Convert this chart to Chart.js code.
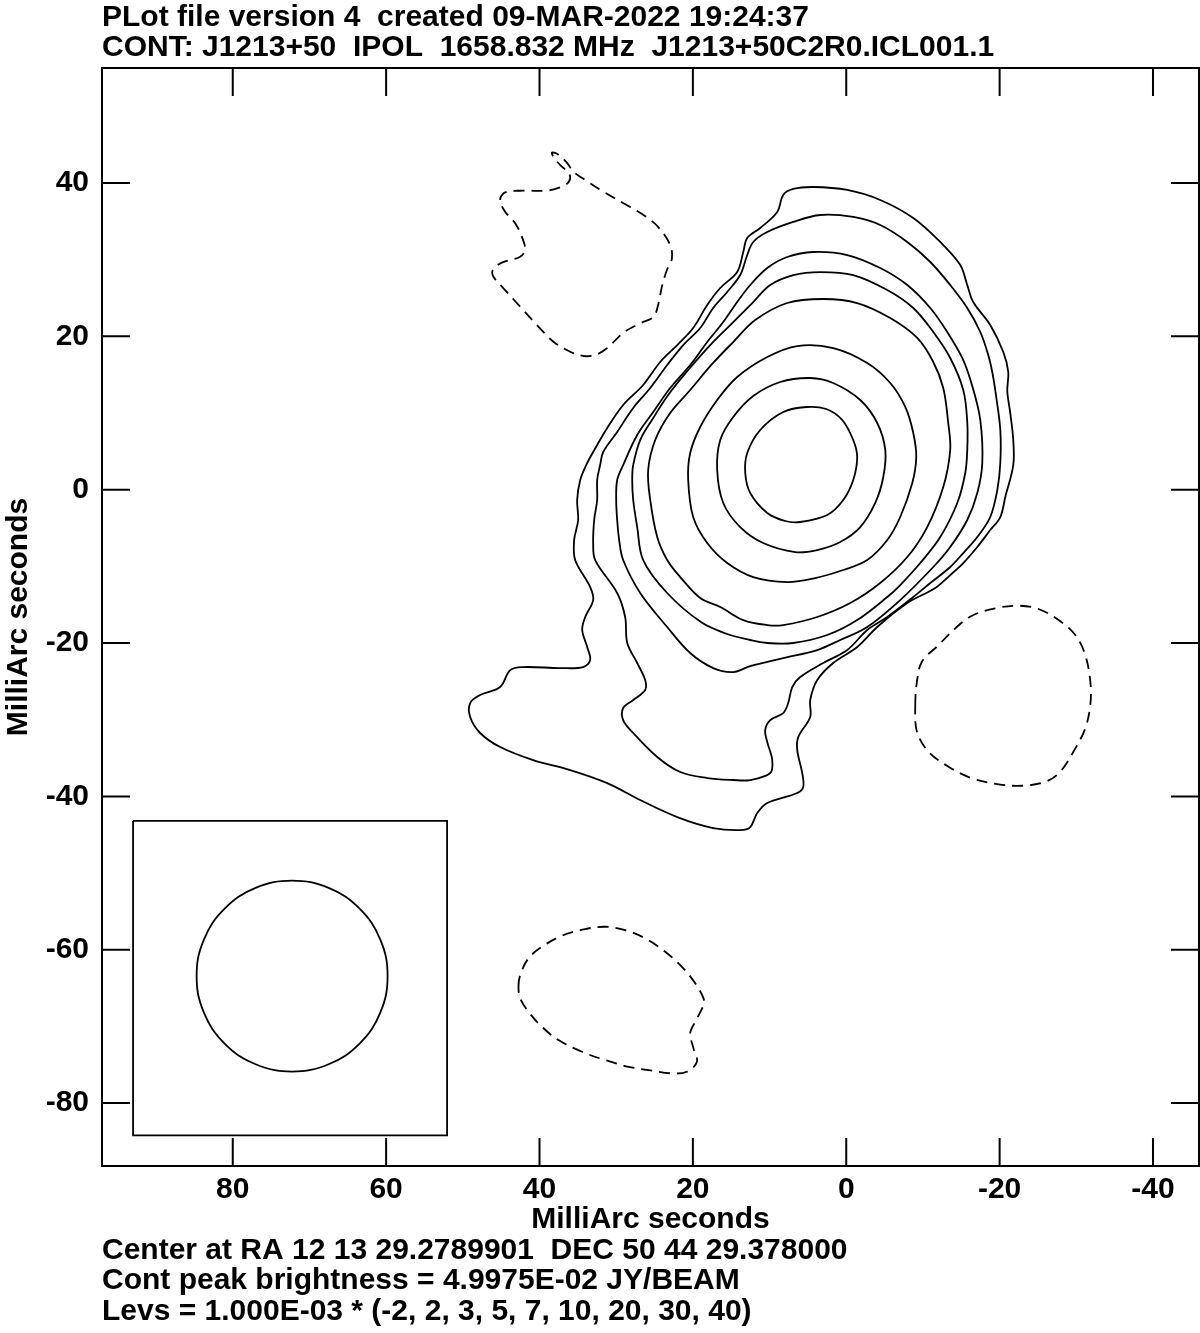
<!DOCTYPE html>
<html>
<head>
<meta charset="utf-8">
<title>J1213+50 IPOL 1658.832 MHz</title>
<script src="https://cdn.jsdelivr.net/npm/chart.js@4.4.1/dist/chart.umd.min.js"></script>
<style>
  html, body { margin: 0; padding: 0; background: #fff; }
  #wrap { width: 1200px; height: 1333px; }
</style>
</head>
<body>
<div id="wrap"><canvas id="map" width="1200" height="1333"></canvas></div>
<script>
// contour levels, in units of 1.000E-03 JY/BEAM
const contourLevels = [-2, 2, 3, 5, 7, 10, 20, 30, 40];

// tick labels (milliarcsec)
const xTicks = [80, 60, 40, 20, 0, -20, -40];
const yTicks = [40, 20, 0, -20, -40, -60, -80];

// contour outlines, [RA offset, Dec offset] in milliarcsec
const negNorth = [[45.13,37.79],[44.48,38.79],[42.09,39.0],[39.04,39.0],[37.30,39.44],[36.17,40.17],[36.09,41.18],[37.08,42.13],[37.95,43.09],[38.39,43.95],[37.66,43.78],[36.43,42.65],[35.57,41.48],[34.04,40.39],[31.66,38.87],[29.05,37.36],[26.44,35.83],[24.48,34.22],[22.96,31.92],[22.73,30.18],[23.39,28.66],[24.04,26.48],[24.48,24.31],[25.13,22.56],[26.87,21.70],[29.05,20.48],[31.21,18.44],[32.74,17.57],[34.26,17.44],[36.0,18.0],[38.18,19.30],[40.34,21.48],[42.52,23.87],[44.70,26.27],[46.0,27.78],[46.08,28.66],[44.91,29.61],[42.52,30.39],[41.87,31.26],[42.30,33.0],[43.17,34.75],[44.48,36.26]];

const negEast = [[-9.0,-28.08],[-9.22,-25.04],[-9.87,-22.43],[-12.04,-20.26],[-14.22,-18.08],[-16.40,-16.43],[-19.43,-15.47],[-22.47,-15.13],[-25.08,-15.56],[-27.69,-17.0],[-29.87,-18.95],[-31.17,-21.56],[-31.83,-25.04],[-31.83,-28.08],[-31.17,-31.12],[-29.87,-33.73],[-27.91,-36.78],[-25.96,-38.09],[-22.92,-38.61],[-19.86,-38.42],[-16.40,-37.64],[-13.34,-36.13],[-10.73,-34.17],[-9.22,-31.56]];

const negSouth = [[42.74,-64.82],[42.52,-63.30],[41.44,-61.12],[39.69,-59.61],[37.08,-58.17],[34.04,-57.30],[31.43,-57.0],[28.83,-57.43],[26.22,-58.51],[23.61,-60.26],[21.43,-62.22],[19.69,-64.38],[18.61,-66.34],[18.61,-67.21],[19.69,-69.39],[20.35,-70.90],[19.92,-72.86],[19.47,-74.61],[20.78,-75.91],[22.73,-76.12],[25.79,-75.69],[28.39,-75.26],[31.43,-74.39],[34.47,-73.30],[37.52,-71.78],[39.69,-70.04],[41.44,-68.08],[42.52,-66.34]];

const lev2 = [[8.22,38.44],[6.91,39.22],[4.30,39.48],[-0.13,39.09],[-4.43,37.79],[-8.74,35.44],[-12.26,32.31],[-14.87,29.31],[-15.78,26.70],[-16.56,24.48],[-18.78,21.48],[-20.48,17.96],[-21.13,15.35],[-21.0,12.87],[-21.39,10.0],[-21.78,6.48],[-21.78,3.22],[-20.74,-0.95],[-20.09,-3.56],[-18.78,-5.26],[-17.09,-7.47],[-15.26,-9.56],[-13.56,-11.13],[-11.61,-12.82],[-7.96,-14.78],[-4.04,-17.91],[-1.43,-20.52],[1.70,-22.60],[3.78,-24.82],[4.70,-27.43],[4.70,-29.65],[6.26,-32.26],[6.39,-33.95],[5.74,-36.95],[5.61,-38.78],[6.39,-39.56],[10.30,-40.86],[11.61,-42.17],[12.52,-43.99],[13.83,-44.39],[17.35,-44.12],[22.04,-42.69],[26.87,-40.47],[31.17,-38.26],[36.0,-36.56],[40.83,-35.26],[45.13,-33.56],[47.74,-31.73],[49.04,-29.65],[49.04,-27.82],[47.74,-26.78],[45.13,-25.73],[43.82,-23.52],[42.13,-23.13],[37.30,-23.26],[34.30,-23.13],[33.39,-22.21],[33.78,-20.52],[34.43,-18.30],[34.04,-16.60],[33.0,-14.39],[33.39,-12.69],[35.35,-9.17],[35.48,-6.56],[34.96,-3.95],[35.09,-1.34],[34.69,1.27],[33.91,3.22],[33.0,4.92],[31.17,8.05],[29.09,11.05],[26.48,13.66],[24.26,16.66],[22.04,18.87],[19.96,21.09],[18.13,24.09],[16.43,26.31],[14.22,28.39],[13.43,31.0],[12.91,32.83],[11.22,34.13],[9.0,36.22]];

const lev3 = [[3.39,35.83],[-0.91,35.57],[-4.43,34.52],[-7.96,32.31],[-10.96,29.70],[-13.56,26.70],[-15.78,23.70],[-17.48,20.57],[-18.52,17.57],[-19.04,15.35],[-19.56,12.09],[-20.09,7.79],[-20.09,3.48],[-19.70,-0.04],[-18.78,-3.56],[-17.09,-6.17],[-15.26,-8.26],[-13.56,-10.08],[-10.96,-12.17],[-8.74,-14.0],[-5.35,-16.60],[-2.74,-18.30],[-0.13,-20.91],[3.0,-22.60],[6.0,-24.43],[7.04,-25.73],[7.57,-27.82],[8.22,-29.13],[9.91,-30.04],[10.57,-31.34],[10.30,-32.91],[9.65,-35.26],[9.91,-36.95],[12.52,-37.86],[14.74,-37.86],[18.13,-37.60],[21.65,-36.82],[24.65,-34.86],[27.78,-31.73],[29.09,-30.04],[29.09,-28.47],[27.78,-27.43],[26.22,-26.12],[26.22,-24.82],[27.26,-22.60],[28.56,-19.99],[28.83,-16.60],[29.87,-13.47],[32.74,-9.17],[33.0,-6.95],[32.87,-3.95],[32.48,-1.34],[32.48,1.27],[32.09,3.22],[31.69,4.92],[29.87,7.53],[27.78,10.66],[25.56,13.26],[23.35,16.26],[21.26,18.87],[19.04,21.09],[17.35,23.70],[15.52,25.79],[13.83,28.0],[12.91,30.61],[12.13,32.31],[10.30,33.61],[6.91,34.92]];

const lev5 = [[4.30,31.0],[-0.13,30.61],[-4.43,28.92],[-7.96,26.70],[-10.96,23.70],[-13.17,20.57],[-15.13,17.18],[-16.43,13.53],[-17.48,9.09],[-17.74,3.48],[-17.09,-0.43],[-15.78,-3.95],[-13.56,-7.47],[-11.35,-10.08],[-7.04,-14.39],[-2.74,-17.91],[0.78,-19.60],[3.78,-20.91],[8.22,-21.95],[12.52,-23.0],[14.74,-23.78],[17.35,-23.26],[20.35,-21.30],[23.35,-17.91],[26.87,-13.47],[29.09,-9.17],[29.61,-6.56],[29.87,-3.95],[30.0,-1.34],[29.87,1.27],[29.09,3.22],[27.26,7.13],[25.17,10.13],[22.96,13.26],[20.35,16.26],[18.13,19.26],[16.04,21.87],[14.22,24.48],[12.52,26.70],[10.30,28.92],[7.70,30.35]];

const lev7 = [[6.91,28.0],[3.39,28.39],[-0.91,28.0],[-5.35,26.05],[-8.74,23.70],[-11.35,20.57],[-13.56,17.18],[-15.26,13.0],[-15.78,8.83],[-15.78,5.18],[-15.52,2.18],[-14.48,-1.73],[-12.26,-6.17],[-9.65,-9.56],[-7.04,-12.43],[-5.35,-14.0],[-1.43,-17.0],[2.48,-18.95],[6.91,-19.99],[10.30,-19.99],[12.52,-19.60],[15.52,-18.82],[18.90,-17.30],[23.35,-13.47],[26.48,-9.17],[27.26,-4.87],[27.78,-1.34],[27.91,1.27],[27.78,3.22],[26.87,6.48],[25.17,9.35],[23.22,12.35],[20.61,15.61],[17.74,18.87],[15.13,21.48],[12.13,24.48],[9.91,26.70]];

const lev10 = [[7.70,24.35],[3.0,24.87],[-1.43,24.35],[-5.74,22.39],[-9.26,19.79],[-11.35,16.66],[-12.65,13.26],[-13.30,8.70],[-13.56,5.18],[-12.65,0.35],[-10.56,-4.87],[-7.96,-8.78],[-4.43,-12.17],[-0.52,-14.78],[3.78,-16.60],[8.22,-17.65],[10.30,-17.65],[13.43,-17.0],[16.43,-15.30],[19.04,-14.13],[21.65,-11.39],[23.35,-9.17],[24.65,-6.17],[25.56,-1.34],[25.83,2.57],[24.91,6.48],[22.96,10.0],[20.35,13.0],[17.48,16.40],[14.74,19.26],[11.87,22.13]];

const lev20 = [[6.39,18.74],[1.70,18.48],[-2.74,16.53],[-5.74,13.92],[-7.70,10.79],[-8.74,7.40],[-9.13,4.27],[-8.61,0.87],[-7.04,-3.56],[-5.35,-6.56],[-2.74,-9.17],[0.39,-10.47],[4.04,-11.52],[7.70,-12.04],[12.13,-11.39],[15.52,-9.56],[18.13,-6.95],[19.96,-3.56],[20.61,1.27],[20.35,4.79],[19.04,8.18],[16.83,11.70],[14.22,14.70],[10.30,17.31]];

const lev30 = [[4.70,14.57],[1.70,13.92],[-1.83,11.70],[-4.04,8.70],[-5.09,5.18],[-4.83,1.66],[-3.78,-1.73],[-1.83,-4.87],[0.78,-6.82],[3.78,-7.87],[6.65,-8.13],[10.83,-6.95],[13.83,-4.87],[16.04,-1.73],[16.83,2.57],[16.43,6.48],[14.74,9.48],[12.13,12.22],[8.61,14.05]];

const lev40 = [[5.22,10.79],[2.61,10.53],[0.52,9.09],[-0.91,6.48],[-1.43,4.27],[-0.91,1.27],[0.39,-1.34],[2.48,-3.30],[6.0,-4.21],[7.96,-4.08],[10.30,-3.04],[12.52,-0.43],[13.17,2.18],[12.91,4.79],[11.22,7.79],[8.22,10.13]];

// restoring beam (circular) and its box, lower left
const beamOutline = [[84.71,-63.43],[83.76,-58.67],[81.06,-54.63],[77.02,-51.93],[72.26,-50.98],[67.50,-51.93],[63.46,-54.63],[60.76,-58.67],[59.81,-63.43],[60.76,-68.19],[63.46,-72.23],[67.50,-74.93],[72.26,-75.88],[77.02,-74.93],[81.06,-72.23],[83.76,-68.19]];
const beamBox = [[93.0,-43.2],[52.05,-43.2],[52.05,-84.2],[93.0,-84.2]];

const titleLines = [
  'PLot file version 4  created 09-MAR-2022 19:24:37',
  'CONT: J1213+50  IPOL  1658.832 MHz  J1213+50C2R0.ICL001.1'
];
const footerLines = [
  'Center at RA 12 13 29.2789901  DEC 50 44 29.378000',
  'Cont peak brightness = 4.9975E-02 JY/BEAM',
  'Levs = 1.000E-03 * (-2, 2, 3, 5, 7, 10, 20, 30, 40)'
];
const axisLabel = 'MilliArc seconds';

const FAMILY = "'Liberation Sans', Arial, Helvetica, sans-serif";
const INK = '#000';
const HIDDEN = 'rgba(0,0,0,0)';
const boldFont = (lh) => ({ family: FAMILY, size: 30, weight: 'bold', lineHeight: lh });

// closed ring: one extra point on each end so the spline has neighbours
// all the way round; the two extra segments are drawn transparent
function ring(pts) {
  const n = pts.length;
  return [pts[n - 1], ...pts, pts[0], pts[1]].map(p => ({ x: p[0], y: p[1] }));
}

function contour(label, pts, dashed, tension) {
  const data = ring(pts);
  const lastSeg = data.length - 2;
  return {
    label: label,
    data: data,
    showLine: true,
    pointRadius: 0,
    pointHoverRadius: 0,
    borderColor: INK,
    borderWidth: 1.8,
    borderDash: dashed ? [11, 7] : [],
    tension: tension === undefined ? 0.35 : tension,
    fill: false,
    segment: {
      borderColor: c => (c.p0DataIndex === 0 || c.p0DataIndex === lastSeg) ? HIDDEN : undefined
    }
  };
}

const datasets = [
  contour('lev ' + contourLevels[0] + ' N', negNorth, true),
  contour('lev ' + contourLevels[0] + ' E', negEast, true),
  contour('lev ' + contourLevels[0] + ' S', negSouth, true),
  contour('lev ' + contourLevels[1], lev2, false),
  contour('lev ' + contourLevels[2], lev3, false),
  contour('lev ' + contourLevels[3], lev5, false),
  contour('lev ' + contourLevels[4], lev7, false),
  contour('lev ' + contourLevels[5], lev10, false),
  contour('lev ' + contourLevels[6], lev20, false),
  contour('lev ' + contourLevels[7], lev30, false),
  contour('lev ' + contourLevels[8], lev40, false),
  contour('beam', beamOutline, false, 0.4),
  contour('beam box', beamBox, false, 0)
];

// plot frame plus inward tick marks on all four sides (AIPS style)
const frameTicks = {
  id: 'frameTicks',
  afterDraw(chart) {
    const { ctx, chartArea: a, scales } = chart;
    const len = 28;
    ctx.save();
    ctx.strokeStyle = INK;
    ctx.lineWidth = 2;
    ctx.strokeRect(a.left, a.top, a.right - a.left, a.bottom - a.top);
    ctx.beginPath();
    xTicks.forEach(v => {
      const px = scales.x.getPixelForValue(v);
      ctx.moveTo(px, a.top); ctx.lineTo(px, a.top + len);
      ctx.moveTo(px, a.bottom); ctx.lineTo(px, a.bottom - len);
    });
    yTicks.forEach(v => {
      const py = scales.y.getPixelForValue(v);
      ctx.moveTo(a.left, py); ctx.lineTo(a.left + len, py);
      ctx.moveTo(a.right, py); ctx.lineTo(a.right - len, py);
    });
    ctx.stroke();
    ctx.restore();
  }
};

new Chart(document.getElementById('map'), {
  type: 'scatter',
  data: { datasets: datasets },
  options: {
    responsive: false,
    maintainAspectRatio: false,
    animation: false,
    events: [],
    layout: { padding: { left: 0, right: 1, top: 0, bottom: 0 } },
    scales: {
      x: {
        type: 'linear',
        min: -46,
        max: 97.05,
        reverse: true,
        afterBuildTicks: s => { s.ticks = xTicks.map(v => ({ value: v })); },
        afterFit: s => { s.height = 69.25; },
        grid: { display: false, drawTicks: false },
        border: { display: false },
        ticks: { color: INK, font: boldFont(1), padding: 9, maxRotation: 0, autoSkip: false },
        title: { display: true, text: axisLabel, color: INK, font: boldFont(1), padding: { top: 0, bottom: 0.25 } }
      },
      y: {
        type: 'linear',
        min: -88.2,
        max: 55.0,
        afterBuildTicks: s => { s.ticks = yTicks.map(v => ({ value: v })); },
        afterFit: s => { s.width = 102; },
        grid: { display: false, drawTicks: false },
        border: { display: false },
        ticks: { color: INK, font: boldFont(1), padding: 13, autoSkip: false },
        title: { display: true, text: axisLabel, color: INK, font: boldFont(1), padding: { top: 3.5, bottom: 0 } }
      }
    },
    plugins: {
      legend: { display: false },
      tooltip: { enabled: false },
      title: {
        display: true,
        text: titleLines,
        align: 'start',
        fullSize: false,
        color: INK,
        font: boldFont(1),
        padding: { top: 2.5, bottom: 5.5 }
      },
      subtitle: {
        display: true,
        position: 'bottom',
        text: footerLines,
        align: 'start',
        fullSize: false,
        color: INK,
        font: boldFont(1.0167),
        padding: { top: 0, bottom: 6.25 }
      }
    }
  },
  plugins: [frameTicks]
});
</script>
</body>
</html>
